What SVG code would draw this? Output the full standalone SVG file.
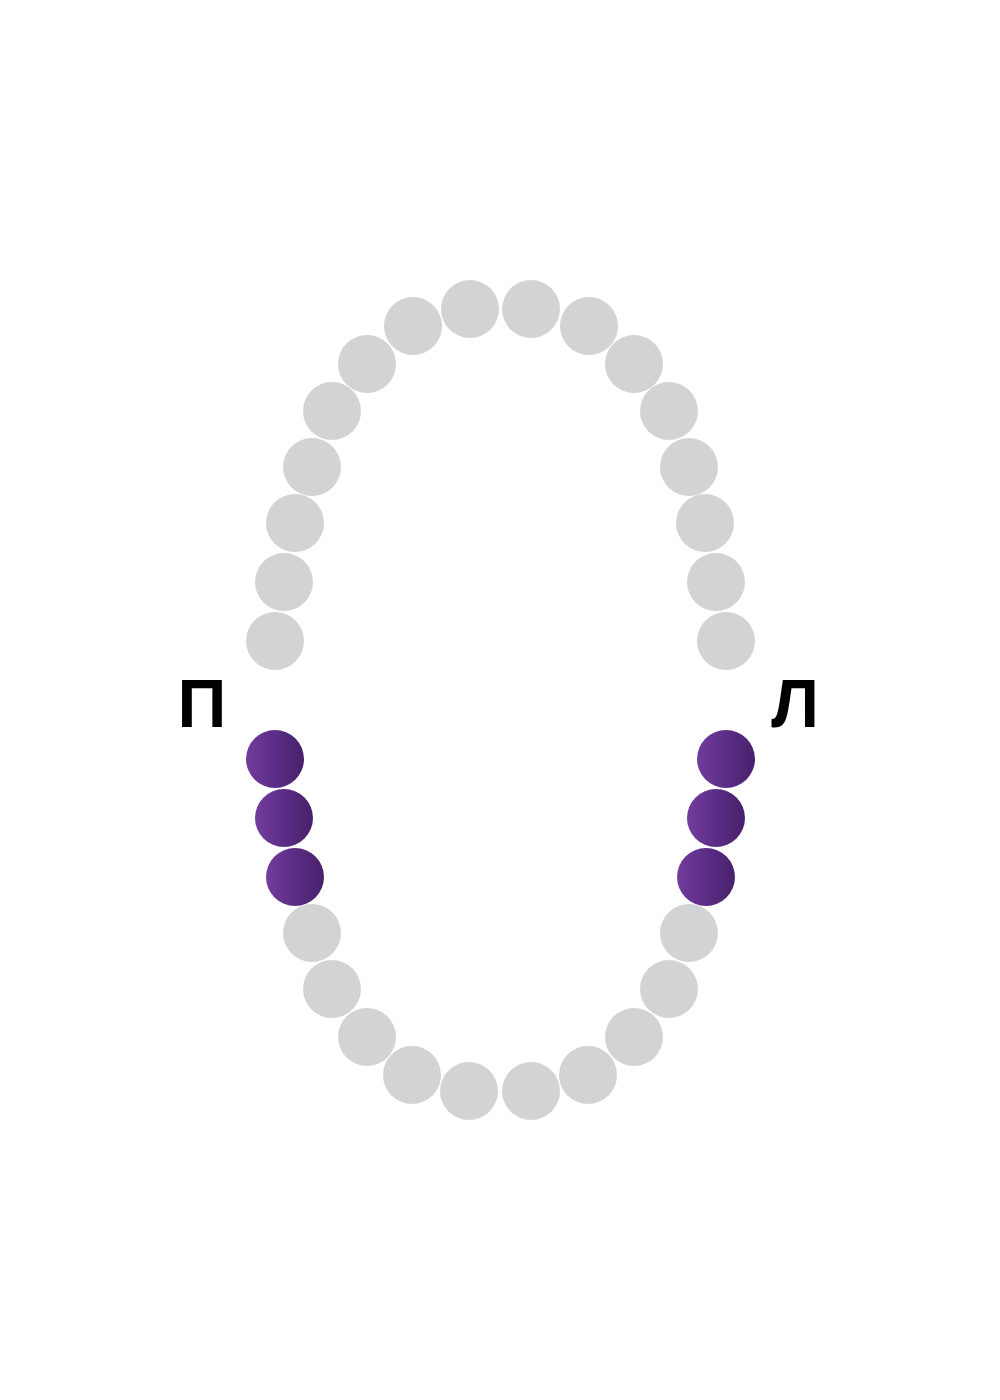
<svg xmlns="http://www.w3.org/2000/svg" width="1000" height="1400" viewBox="0 0 1000 1400">
<defs>
<linearGradient id="pg" x1="0" y1="0" x2="1" y2="0">
<stop offset="0" stop-color="#733c9c"/>
<stop offset="0.5" stop-color="#5b2d86"/>
<stop offset="1" stop-color="#48216b"/>
</linearGradient>
<style>
.t{fill:#d1d3d4}
.p{fill:url(#pg)}
.lbl{font-family:"Liberation Sans",Arial,sans-serif;font-weight:bold;font-size:68px;fill:#000;text-anchor:middle}
</style>
</defs>
<rect width="1000" height="1400" fill="#fff"/>
<g id="upper">
<circle class="t" cx="470" cy="309" r="29"/>
<circle class="t" cx="531" cy="309" r="29"/>
<circle class="t" cx="413" cy="326" r="29"/>
<circle class="t" cx="589" cy="326" r="29"/>
<circle class="t" cx="367" cy="364" r="29"/>
<circle class="t" cx="634" cy="364" r="29"/>
<circle class="t" cx="332" cy="411" r="29"/>
<circle class="t" cx="669" cy="411" r="29"/>
<circle class="t" cx="312" cy="467" r="29"/>
<circle class="t" cx="689" cy="467" r="29"/>
<circle class="t" cx="295" cy="523" r="29"/>
<circle class="t" cx="705" cy="523" r="29"/>
<circle class="t" cx="284" cy="582" r="29"/>
<circle class="t" cx="716" cy="582" r="29"/>
<circle class="t" cx="275" cy="641" r="29"/>
<circle class="t" cx="726" cy="641" r="29"/>
</g>
<g id="purple">
<circle class="p" cx="275" cy="759" r="29"/>
<circle class="p" cx="284" cy="818" r="29"/>
<circle class="p" cx="295" cy="877" r="29"/>
<circle class="p" cx="726" cy="759" r="29"/>
<circle class="p" cx="716" cy="818" r="29"/>
<circle class="p" cx="706" cy="877" r="29"/>
</g>
<g id="lower">
<circle class="t" cx="312" cy="933" r="29"/>
<circle class="t" cx="332" cy="989" r="29"/>
<circle class="t" cx="367" cy="1037" r="29"/>
<circle class="t" cx="412" cy="1075" r="29"/>
<circle class="t" cx="469" cy="1091" r="29"/>
<circle class="t" cx="531" cy="1091" r="29"/>
<circle class="t" cx="588" cy="1075" r="29"/>
<circle class="t" cx="634" cy="1037" r="29"/>
<circle class="t" cx="669" cy="989" r="29"/>
<circle class="t" cx="689" cy="933" r="29"/>
</g>
<g id="labels">
<text class="lbl" x="202" y="727">П</text>
<text class="lbl" x="795" y="727">Л</text>
</g>
</svg>
